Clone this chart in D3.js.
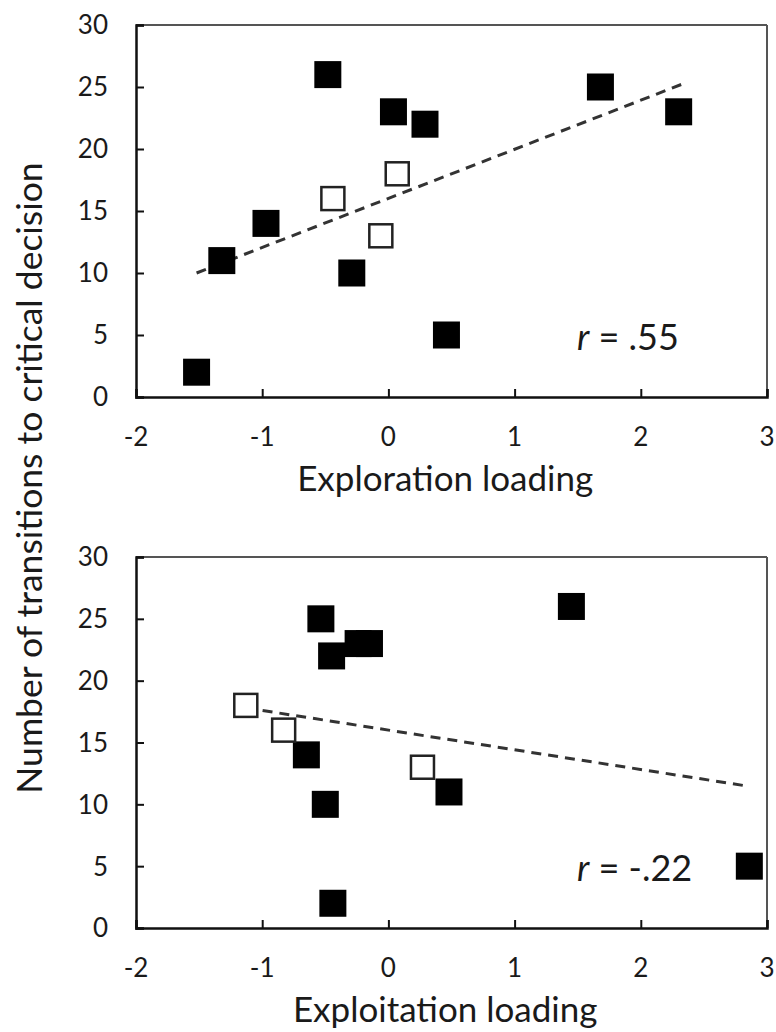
<!DOCTYPE html>
<html lang="en">
<head>
  <meta charset="UTF-8" />
  <title>Transitions vs loadings</title>
  <script src="https://d3js.org/d3.v7.min.js"></script>
  <style>
    html, body { margin: 0; padding: 0; background: #fff; }
    svg { display: block; font-family: Lato, "Open Sans", sans-serif; }
    .tick-label { font-size: 26px; fill: #1a1a1a; }
    .axis-title { font-size: 35px; fill: #1a1a1a; }
    .y-title { font-size: 35.5px; fill: #1a1a1a; }
    .r-label { font-size: 36px; fill: #1a1a1a; }
    .trend { fill: none; stroke: #333; stroke-width: 3px; stroke-dasharray: 10 7; }
  </style>
</head>
<body>
  <svg id="chart" width="776" height="1032"></svg>

  <script>
    // values (one entry per participant)
    const transitions  = [2, 11, 14, 26, 10, 23, 22, 5, 25, 23, 16, 18, 13];
    const exploration  = [-1.52, -1.32, -0.97, -0.48, -0.29, 0.04, 0.29, 0.46, 1.68, 2.30, -0.44, 0.07, -0.06];
    const exploitation = [-0.44, 0.48, -0.65, 1.45, -0.50, -0.24, -0.45, 2.86, -0.535, -0.15, -0.83, -1.13, 0.27];
    const openMarker   = [false, false, false, false, false, false, false, false, false, false, true, true, true];

    // dashed fit lines, end points as drawn
    const explorationFit  = [[-1.52, 10.0], [2.32, 25.2]];
    const exploitationFit = [[-1.13, 17.8], [2.86, 11.45]];

    const xTicks = [-2, -1, 0, 1, 2, 3];
    const yTicks = [0, 5, 10, 15, 20, 25, 30];
    const xTitles = ['Exploration loading', 'Exploitation loading'];
    const rValues = ['.55', '-.22'];
    const yTitle = 'Number of transitions to critical decision';

    const svg = d3.select('#chart');
    const left = 136, right = 767;
    const panels = [
      { top: 25,  bottom: 397, xs: exploration,  fit: explorationFit,  title: xTitles[0], r: rValues[0] },
      { top: 557, bottom: 928, xs: exploitation, fit: exploitationFit, title: xTitles[1], r: rValues[1] }
    ];

    panels.forEach(p => {
      const x = d3.scaleLinear().domain([-2, 3]).range([left, right]);
      const y = d3.scaleLinear().domain([0, 30]).range([p.bottom, p.top]);
      const g = svg.append('g');

      // frame: top/right lighter, left/bottom axes heavier
      g.append('line').attr('x1', left).attr('x2', right).attr('y1', p.top).attr('y2', p.top)
        .attr('stroke', '#555').attr('stroke-width', 2);
      g.append('line').attr('x1', right).attr('x2', right).attr('y1', p.top).attr('y2', p.bottom)
        .attr('stroke', '#555').attr('stroke-width', 2);

      const yAxis = g.append('g').attr('transform', `translate(${left},0)`)
        .call(d3.axisRight(y).tickValues(yTicks).tickSize(8).tickFormat(''));
      const xAxis = g.append('g').attr('transform', `translate(0,${p.bottom})`)
        .call(d3.axisTop(x).tickValues(xTicks).tickSize(8).tickFormat(''));
      [yAxis, xAxis].forEach(a => {
        a.select('.domain').attr('stroke', '#111').attr('stroke-width', 2.5);
        a.selectAll('.tick line').attr('stroke', '#111').attr('stroke-width', 2);
      });

      g.selectAll('.ylab').data(yTicks).join('text')
        .attr('class', 'tick-label').attr('text-anchor', 'end')
        .attr('x', left - 28).attr('y', d => y(d)).attr('dy', '0.36em')
        .text(d => d);
      g.selectAll('.xlab').data(xTicks).join('text')
        .attr('class', 'tick-label').attr('text-anchor', 'middle')
        .attr('x', d => x(d)).attr('y', p.bottom + 49)
        .text(d => d);

      g.append('text').attr('class', 'axis-title').attr('text-anchor', 'middle')
        .attr('x', x(0.45)).attr('y', p.bottom + 94).text(p.title);

      g.append('path').attr('class', 'trend')
        .attr('d', d3.line().x(d => x(d[0])).y(d => y(d[1]))(p.fit));

      const pts = transitions.map((t, i) => ({ x: p.xs[i], y: t, open: openMarker[i] }));
      g.selectAll('.pt').data(pts).join('rect')
        .attr('x', d => x(d.x) - (d.open ? 11.5 : 13.5))
        .attr('y', d => y(d.y) - (d.open ? 11.5 : 13.5))
        .attr('width', d => d.open ? 23 : 27)
        .attr('height', d => d.open ? 23 : 27)
        .attr('fill', d => d.open ? '#fff' : '#000')
        .attr('stroke', d => d.open ? '#222' : 'none')
        .attr('stroke-width', 2.5);

      const rl = g.append('text').attr('class', 'r-label')
        .attr('x', 577).attr('y', p.bottom - 47);
      rl.append('tspan').attr('font-style', 'italic').text('r');
      rl.append('tspan').text(' = ' + p.r);
    });

    svg.append('text').attr('class', 'y-title').attr('text-anchor', 'middle')
      .attr('transform', 'translate(42,478) rotate(-90)')
      .text(yTitle);
  </script>
</body>
</html>
